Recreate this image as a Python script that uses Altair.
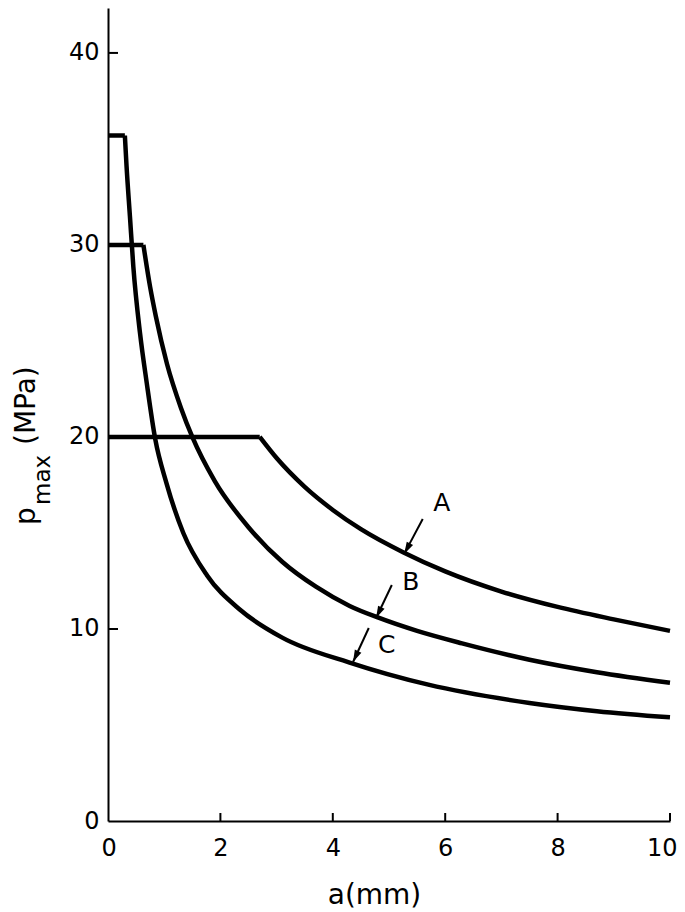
import altair as alt
import pandas as pd

# ---- data ----
a_A = [0, 2.7, 3.0, 3.5, 4.0, 4.5, 5.25, 6.0, 7.0, 8.0, 9.0, 10.0]
p_A = [20, 20, 18.9, 17.4, 16.2, 15.2, 14.0, 13.0, 11.95, 11.15, 10.5, 9.9]
a_B = [0, 0.63, 0.75, 0.85, 1.05, 1.3, 1.5, 1.9, 2.5, 3.1, 3.7, 4.3, 4.8, 5.5, 6.3, 7.5, 8.7, 10]
p_B = [30, 30, 27.8, 26.3, 23.8, 21.5, 20.0, 17.7, 15.3, 13.5, 12.2, 11.2, 10.6, 9.9, 9.25, 8.4, 7.75, 7.2]
a_C = [0, 0.3, 0.33, 0.39, 0.45, 0.57, 0.69, 0.84, 1.04, 1.34, 1.76, 2.35, 3.1, 4.3, 5.7, 7.5, 8.7, 10]
p_C = [35.7, 35.7, 34.1, 31.5, 28.9, 25.4, 22.8, 19.9, 17.6, 15.0, 12.8, 11.0, 9.55, 8.25, 7.1, 6.15, 5.72, 5.4]

x_ticks = [0, 2, 4, 6, 8, 10]
y_ticks = [0, 10, 20, 30, 40]
x_inner_ticks = [2, 4, 6, 8, 10]
y_inner_ticks = [10, 20, 30, 40]

label_text = ["A", "B", "C"]
label_a = [5.94, 5.39, 4.96]
label_p = [16.56, 12.45, 9.17]
arrow_a0 = [5.60, 5.05, 4.64]
arrow_p0 = [15.73, 12.29, 10.05]
arrow_a1 = [5.27, 4.77, 4.36]
arrow_p1 = [13.91, 10.57, 8.28]
arrow_angle = [208.5, 206, 205]

# ---- layout ----
W, H = 562, 813
FONT = "DejaVu Sans"


def rows(name, aa, pp):
    # flat plateau (first two points) drawn straight, decay drawn smooth
    out = [{"a": a, "p": p, "s": name + "flat"} for a, p in zip(aa[:2], pp[:2])]
    out += [{"a": a, "p": p, "s": name + "decay"} for a, p in zip(aa[1:], pp[1:])]
    return out


curves = pd.DataFrame(rows("A", a_A, p_A) + rows("B", a_B, p_B) + rows("C", a_C, p_C))
labels = pd.DataFrame({"t": label_text, "a": label_a, "p": label_p})
arrows = pd.DataFrame({"a": arrow_a0, "p": arrow_p0, "a1": arrow_a1,
                       "p1": arrow_p1, "ang": arrow_angle})
heads_df = pd.DataFrame({"a": arrow_a1, "p": arrow_p1, "ang": arrow_angle})

xscale = alt.Scale(domain=[0, 10], nice=False, zero=False)
yscale = alt.Scale(domain=[0, 42.34], nice=False, zero=False)

x_axis = alt.Axis(values=x_ticks, ticks=False, grid=False, labelFlush=True,
                  labelFlushOffset=7,
                  labelPadding=15, domainColor="black", domainWidth=2,
                  labelFont=FONT, labelFontSize=24, labelColor="black",
                  title="a(mm)", titleFont=FONT, titleFontSize=28,
                  titleFontWeight="normal", titleColor="black",
                  titleX=266, titleY=82, titleBaseline="alphabetic",
                  titleAlign="center")
y_axis = alt.Axis(values=y_ticks, ticks=False, grid=False, labelPadding=9,
                  domainColor="black", domainWidth=2, labelFont=FONT,
                  labelFontSize=24, labelColor="black", title="")

X = alt.X("a:Q", scale=xscale, axis=x_axis)
Y = alt.Y("p:Q", scale=yscale, axis=y_axis)

flat = alt.Chart(curves).transform_filter(
    "indexof(datum.s, 'flat') >= 0").mark_line(
    color="black", strokeWidth=4.5, strokeJoin="miter").encode(x=X, y=Y, detail="s:N")
decay = alt.Chart(curves).transform_filter(
    "indexof(datum.s, 'decay') >= 0").mark_line(
    color="black", strokeWidth=4.5, interpolate="monotone").encode(x=X, y=Y, detail="s:N")

ytk = alt.Chart(pd.DataFrame({"p": y_inner_ticks})).mark_rule(
    color="black", strokeWidth=2).encode(
    y=Y, x=alt.value(0), x2=alt.value(10),
)
xtk = alt.Chart(pd.DataFrame({"a": x_inner_ticks})).mark_rule(
    color="black", strokeWidth=2).encode(
    x=X, y=alt.value(H), y2=alt.value(H - 8),
)

txt = alt.Chart(labels).mark_text(font=FONT, fontSize=25, color="black",
                                  align="center", baseline="middle").encode(
    x=X, y=Y, text="t:N",
)

shafts = alt.Chart(arrows).mark_rule(color="black", strokeWidth=2).encode(
    x=X, y=Y, x2="a1:Q", y2="p1:Q",
)
heads = alt.Chart(heads_df).mark_point(
    shape="M0,0L-0.3,1L0.3,1Z", size=576, filled=True, color="black",
    opacity=1, strokeWidth=0).encode(
    x=X, y=Y, angle=alt.Angle("ang:Q", scale=None),
)

# y-axis title p_max (MPa) with subscript, as text
title_p = alt.Chart(pd.DataFrame({"t": ["p"]})).mark_text(
    font=FONT, fontSize=28, color="black", angle=270, align="left",
    baseline="alphabetic").encode(text="t:N", x=alt.value(-73), y=alt.value(517))
title_sub = alt.Chart(pd.DataFrame({"t": ["max"]})).mark_text(
    font=FONT, fontSize=23, color="black", angle=270, align="left",
    baseline="alphabetic").encode(text="t:N", x=alt.value(-58), y=alt.value(497))
title_unit = alt.Chart(pd.DataFrame({"t": ["(MPa)"]})).mark_text(
    font=FONT, fontSize=28, color="black", angle=270, align="left",
    baseline="alphabetic").encode(text="t:N", x=alt.value(-73), y=alt.value(437))

chart = alt.layer(flat, decay, ytk, xtk, shafts, heads, txt,
                  title_p, title_sub, title_unit).properties(
    width=W, height=H,
    autosize=alt.AutoSizeParams(type="none"),
    padding={"left": 100, "top": 0, "right": 7, "bottom": 90},
).configure_view(stroke=None)

chart.save("out.html", embed_options={"renderer": "svg", "actions": False})
